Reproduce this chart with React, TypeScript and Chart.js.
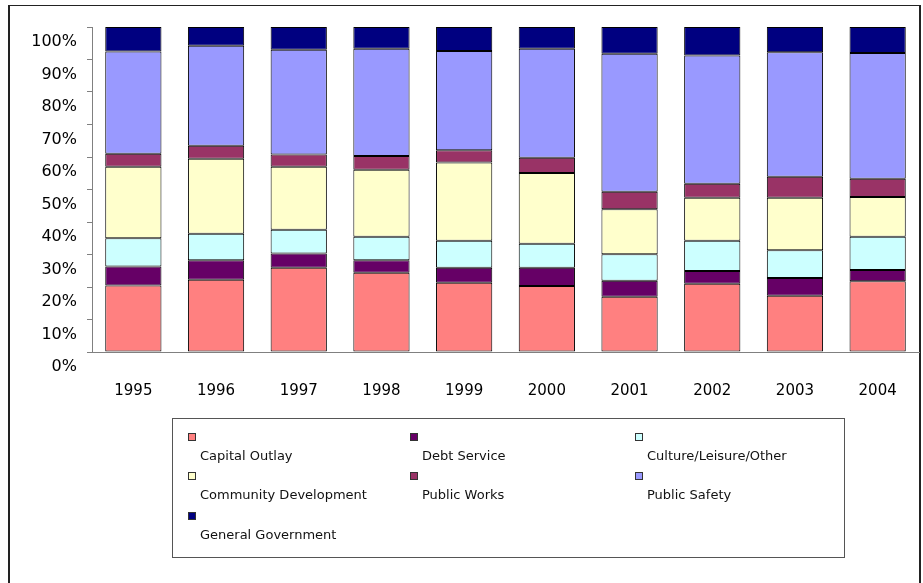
import React, { useEffect, useRef } from "react";
import { Chart, registerables } from "chart.js";

Chart.register(...registerables);

const years = ["1995", "1996", "1997", "1998", "1999", "2000", "2001", "2002", "2003", "2004"];
const capitalOutlay = [20.5, 22.2, 25.9, 24.4, 21.3, 20.3, 17.0, 21.0, 17.3, 21.8];
const debtService = [5.8, 6.0, 4.4, 3.8, 4.6, 5.6, 4.9, 3.9, 5.5, 3.4];
const cultureLeisure = [8.7, 8.2, 7.3, 7.3, 8.3, 7.4, 8.2, 9.3, 8.5, 10.3];
const communityDev = [22.0, 23.1, 19.4, 20.6, 24.1, 21.8, 13.8, 13.3, 16.2, 12.2];
const publicWorks = [4.0, 4.0, 3.8, 4.2, 3.8, 4.7, 5.4, 4.3, 6.4, 5.6];
const publicSafety = [31.5, 30.7, 32.2, 33.0, 30.5, 33.5, 42.5, 39.4, 38.3, 38.7];
const generalGov = [7.5, 5.8, 7.0, 6.7, 7.4, 6.7, 8.2, 8.8, 7.8, 8.0];

const seriesNames = [
  "Capital Outlay",
  "Debt Service",
  "Culture/Leisure/Other",
  "Community Development",
  "Public Works",
  "Public Safety",
  "General Government",
];
const seriesValues = [capitalOutlay, debtService, cultureLeisure, communityDev, publicWorks, publicSafety, generalGov];
const seriesColors = ["#FF8080", "#660066", "#CCFFFF", "#FFFFCC", "#993366", "#9999FF", "#000080"];
const yTicks = [0, 10, 20, 30, 40, 50, 60, 70, 80, 90, 100];

const FONT = "'DejaVu Sans', Verdana, sans-serif";

export default function App() {
  const ref = useRef<HTMLCanvasElement>(null);

  useEffect(() => {
    if (!ref.current) return;
    const chart = new Chart(ref.current, {
      type: "bar",
      data: {
        labels: years,
        datasets: seriesNames.map((name, i) => ({
          label: name,
          data: seriesValues[i],
          backgroundColor: seriesColors[i],
          borderColor: "#000000",
          borderWidth: 1,
          borderSkipped: false,
          categoryPercentage: 0.8,
          barPercentage: 0.85,
        })),
      },
      options: {
        animation: false,
        responsive: false,
        events: [],
        layout: { padding: { top: 27, right: 4, left: 0, bottom: 0 } },
        plugins: { legend: { display: false }, tooltip: { enabled: false } },
        scales: {
          x: {
            stacked: true,
            grid: { display: false },
            border: { display: true, color: "#808080", width: 1 },
            ticks: { color: "#000", font: { family: FONT, size: 15 }, padding: 22 },
            afterFit: (s: any) => {
              s.height = 231;
            },
          },
          y: {
            stacked: true,
            min: 0,
            max: 100,
            afterBuildTicks: (s: any) => {
              s.ticks = yTicks.map((v) => ({ value: v }));
            },
            ticks: {
              color: "#000",
              font: { family: FONT, size: 16 },
              padding: 10,
              labelOffset: 15,
              callback: (v: any) => v + "%",
            },
            grid: { drawOnChartArea: false, drawTicks: true, tickLength: 5, color: "#808080" },
            border: { display: true, color: "#808080", width: 1 },
            afterFit: (s: any) => {
              s.width = 92;
            },
          },
        },
      },
    });
    return () => chart.destroy();
  }, []);

  const colX = [188, 410, 635];
  const rowY = [433, 472, 512];

  return (
    <div style={{ position: "absolute", left: 0, top: 0, width: 923, height: 583, overflow: "hidden", background: "#fff" }}>
      <div
        style={{
          position: "absolute",
          left: 8,
          top: 5,
          width: 913,
          height: 700,
          boxSizing: "border-box",
          borderTop: "1px solid #222",
          borderRight: "2px solid #222",
          borderLeft: "2px solid #222",
        }}
      />
      <canvas ref={ref} width={923} height={583} style={{ position: "absolute", left: 0, top: 0, width: 923, height: 583 }} />
      <div
        style={{
          position: "absolute",
          left: 172,
          top: 418,
          width: 673,
          height: 140,
          boxSizing: "border-box",
          border: "1px solid #555",
          background: "transparent",
        }}
      />
      {seriesNames.map((name, i) => {
        const c = i % 3;
        const r = Math.floor(i / 3);
        return (
          <React.Fragment key={name}>
            <div
              style={{
                position: "absolute",
                left: colX[c],
                top: rowY[r],
                width: 8,
                height: 8,
                boxSizing: "border-box",
                border: "1px solid #333",
                background: seriesColors[i],
              }}
            />
            <div
              style={{
                position: "absolute",
                left: colX[c] + 12,
                top: rowY[r] + 15,
                fontFamily: FONT,
                fontSize: 13,
                lineHeight: "16px",
                color: "#111",
                whiteSpace: "nowrap",
              }}
            >
              {name}
            </div>
          </React.Fragment>
        );
      })}
    </div>
  );
}
